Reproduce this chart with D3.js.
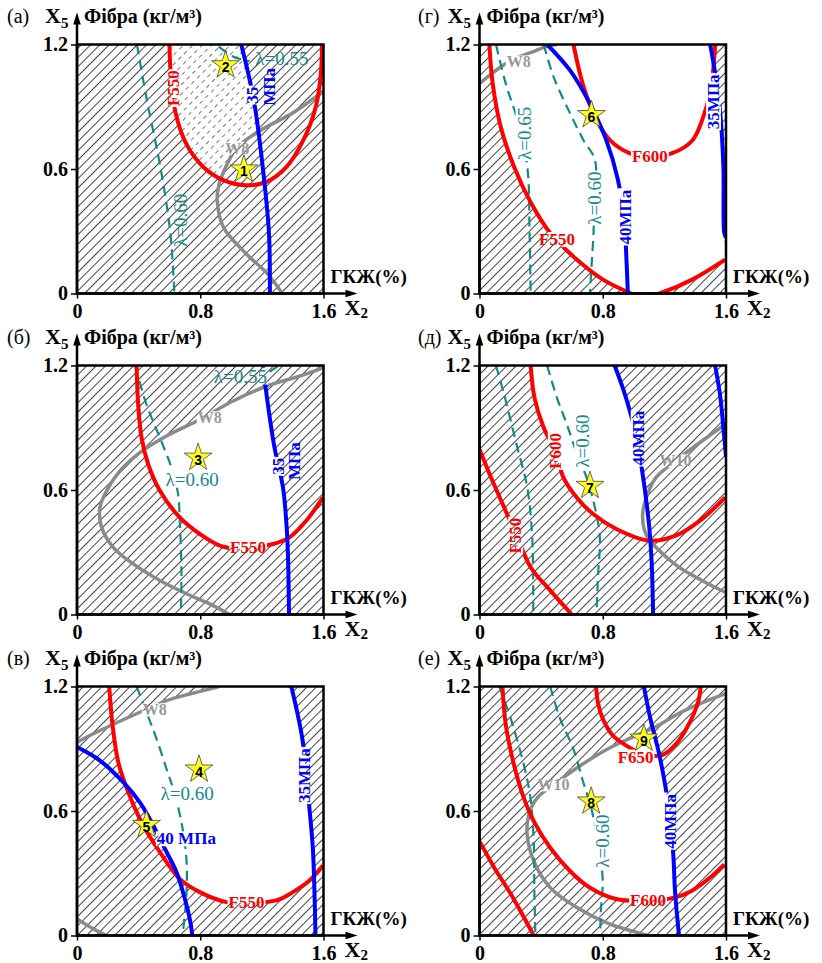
<!DOCTYPE html>
<html>
<head>
<meta charset="utf-8">
<script src="https://cdn.jsdelivr.net/npm/d3@7"></script>
<style>
  body { margin: 0; background: #fff; }
</style>
</head>
<body>
<div id="chart"></div>
<script>
// ticks
var xTicks = [0, 0.8, 1.6];
var yTicks = [0, 0.6, 1.2];

// (а)
var a_F550 = [[0.60,1.2],[0.61,1.04],[0.64,0.87],[0.71,0.72],[0.82,0.61],[0.95,0.546],[1.09,0.522],[1.23,0.538],[1.36,0.61],[1.47,0.74],[1.55,0.90],[1.583,1.06],[1.59,1.2]];
var a_MPa35 = [[1.066,1.2],[1.148,0.93],[1.213,0.56],[1.246,0.29],[1.252,0]];
var a_lam060 = [[0.389,1.2],[0.454,0.93],[0.541,0.61],[0.606,0.29],[0.632,0]];
var a_lam055 = [[0.92,1.19],[1.02,1.14],[1.12,1.12]];
var a_W8 = [[1.6,0.975],[1.41,0.875],[1.19,0.786],[1.08,0.73],[1.016,0.68],[0.96,0.6],[0.92,0.52],[0.91,0.45],[0.95,0.32],[1.1,0.19],[1.235,0.096],[1.333,0]];
var a_dots = [[0.60,1.2],[0.61,1.04],[0.64,0.87],[0.71,0.72],[0.82,0.61],[0.93,0.55],[0.96,0.6],[1.016,0.68],[1.08,0.73],[1.175,0.778],[1.148,0.93],[1.066,1.2]];
var a_labels = [["F550",0.625,0.99,"red","v"],["λ=0.55",1.33,1.133,"teal","h"],["35",1.142,0.956,"blue","v"],["МПа",1.25,0.996,"blue","v"],["W8",1.04,0.70,"grey","h"],["λ=0.60",0.675,0.353,"teal","v"]];
var a_stars = [[1,1.083,0.598],[2,0.964,1.1]];

// (б)
var b_F550 = [[0.387,1.2],[0.397,1.012],[0.419,0.852],[0.462,0.724],[0.538,0.596],[0.667,0.468],[0.797,0.388],[0.926,0.332],[1.056,0.316],[1.272,0.34],[1.38,0.372],[1.488,0.452],[1.596,0.564]];
var b_MPa35 = [[1.207,1.2],[1.239,1.012],[1.282,0.804],[1.337,0.612],[1.358,0.452],[1.369,0.292],[1.376,0]];
var b_lam060 = [[0.376,1.2],[0.451,1.012],[0.538,0.852],[0.613,0.708],[0.656,0.58],[0.667,0.452],[0.678,0.212],[0.674,0]];
var b_lam055 = [[1.25,1.17],[1.31,1.2]];
var b_W8 = [[1.596,1.189],[1.445,1.149],[1.229,1.1],[1.013,1.029],[0.797,0.94],[0.581,0.86],[0.408,0.78],[0.279,0.692],[0.192,0.596],[0.149,0.516],[0.16,0.42],[0.235,0.324],[0.365,0.244],[0.538,0.164],[0.711,0.1],[0.883,0.043],[0.991,0]];
var b_clear = [[0.44,0.795],[0.581,0.86],[0.797,0.94],[1.013,1.029],[1.225,1.1],[1.239,1.012],[1.282,0.804],[1.337,0.612],[1.358,0.452],[1.363,0.364],[1.272,0.34],[1.056,0.316],[0.926,0.332],[0.797,0.388],[0.667,0.468],[0.538,0.596],[0.462,0.724]];
var b_labels = [["λ=0.55",1.06,1.149,"teal","h"],["W8",0.862,0.948,"grey","h"],["λ=0.60",0.747,0.652,"teal","h"],["35",1.31,0.714,"blue","v"],["МПа",1.412,0.739,"blue","v"],["F550",1.11,0.324,"red","h"]];
var b_stars = [[3,0.786,0.756]];

// (в)
var c_W8 = [[0,0.932],[0.149,0.988],[0.408,1.076],[0.581,1.132],[0.732,1.164],[0.883,1.192],[0.92,1.2]];
var c_W8low = [[0,0.08],[0.106,0.032],[0.192,0]];
var c_MPa40 = [[0,0.908],[0.149,0.843],[0.3,0.739],[0.408,0.642],[0.484,0.546],[0.559,0.434],[0.646,0.305],[0.7,0.177],[0.732,0.08],[0.749,0]];
var c_F550 = [[0.209,1.2],[0.231,1.012],[0.268,0.835],[0.333,0.69],[0.419,0.546],[0.538,0.402],[0.667,0.273],[0.797,0.209],[0.97,0.161],[1.099,0.157],[1.293,0.169],[1.401,0.209],[1.509,0.265],[1.596,0.337]];
var c_lam060 = [[0.387,1.2],[0.451,1.076],[0.516,0.948],[0.581,0.803],[0.624,0.707],[0.678,0.546],[0.71,0.369],[0.71,0.193],[0.685,0]];
var c_MPa35 = [[1.391,1.2],[1.434,1.06],[1.466,0.932],[1.509,0.61],[1.531,0.418],[1.542,0.193],[1.548,0]];
var c_clear = [[0.231,1.016],[0.408,1.076],[0.581,1.132],[0.732,1.164],[0.883,1.192],[0.92,1.2],[1.391,1.2],[1.434,1.06],[1.466,0.932],[1.509,0.61],[1.531,0.418],[1.537,0.285],[1.401,0.209],[1.293,0.169],[1.099,0.157],[0.97,0.161],[0.797,0.209],[0.667,0.273],[0.646,0.302],[0.559,0.434],[0.484,0.546],[0.408,0.642],[0.3,0.739],[0.289,0.755],[0.268,0.835]];
var c_labels = [["W8",0.505,1.088,"grey","h"],["λ=0.60",0.715,0.683,"teal","h"],["40 МПа",0.71,0.466,"blue","h"],["35МПа",1.477,0.77,"blue","v"],["F550",1.1,0.16,"red","h"]];
var c_stars = [[4,0.792,0.8],[5,0.451,0.533]];

// (г)
var d_F550 = [[0.064,1.2],[0.086,1.01],[0.139,0.80],[0.225,0.61],[0.332,0.44],[0.46,0.29],[0.631,0.164],[0.802,0.067],[0.952,0.011],[1.06,-0.02],[1.19,0.006],[1.38,0.067],[1.594,0.163]];
var d_F600 = [[0.61,1.2],[0.674,1.0],[0.76,0.836],[0.845,0.74],[0.973,0.676],[1.102,0.66],[1.251,0.676],[1.38,0.736],[1.444,0.833],[1.5,0.98],[1.53,1.2]];
var d_MPa40 = [[0.439,1.2],[0.588,1.075],[0.717,0.914],[0.824,0.737],[0.898,0.55],[0.94,0.35],[0.952,0.196],[0.963,0]];
var d_MPa35 = [[1.497,1.2],[1.53,1.06],[1.561,0.884],[1.583,0.612],[1.589,0.292],[1.6,0.27]];
var d_lam065 = [[0.107,1.2],[0.171,1.01],[0.246,0.836],[0.31,0.612],[0.325,0.292],[0.332,0]];
var d_lam060 = [[0.417,1.2],[0.481,1.044],[0.588,0.868],[0.674,0.74],[0.749,0.644],[0.745,0.4],[0.738,0.26],[0.727,0.131],[0.717,0]];
var d_W8 = [[0,1.012],[0.154,1.1],[0.255,1.14],[0.345,1.165],[0.432,1.19],[0.5,1.2]];
var d_hatchL = [[0,1.2],[0.064,1.2],[0.086,1.01],[0.139,0.80],[0.225,0.61],[0.332,0.44],[0.46,0.29],[0.631,0.164],[0.802,0.067],[0.952,0.011],[1.0,0],[0,0]];
var d_hatchR = [[1.497,1.2],[1.53,1.06],[1.561,0.884],[1.583,0.612],[1.589,0.292],[1.594,0.163],[1.38,0.067],[1.19,0.006],[1.1,0],[1.6,0],[1.6,1.2]];
var d_labels = [["F550",0.503,0.26,"red","h"],["F600",1.106,0.66,"red","h"],["40МПа",0.948,0.368,"blue","v"],["35МПа",1.519,0.924,"blue","v"],["λ=0.65",0.289,0.772,"teal","v"],["λ=0.60",0.749,0.46,"teal","v"],["W8",0.255,1.116,"grey","h"]];
var d_stars = [[6,0.727,0.86]];

// (д)
var e_F550 = [[0,0.796],[0.075,0.66],[0.16,0.516],[0.246,0.372],[0.332,0.228],[0.46,0.115],[0.599,0]];
var e_F600 = [[0.332,1.2],[0.357,1.044],[0.417,0.9],[0.492,0.788],[0.545,0.66],[0.631,0.564],[0.738,0.484],[0.888,0.412],[1.102,0.356],[1.273,0.38],[1.444,0.46],[1.594,0.564]];
var e_MPa40 = [[0.877,1.2],[0.93,1.092],[0.973,0.988],[1.02,0.85],[1.059,0.676],[1.08,0.564],[1.102,0.42],[1.117,0.26],[1.127,0]];
var e_MPa35 = [[1.529,1.2],[1.561,1.06],[1.583,0.9],[1.6,0.76]];
var e_lamL = [[0.107,1.2],[0.16,1.06],[0.203,0.932],[0.246,0.804],[0.31,0.612],[0.342,0.372],[0.349,0]];
var e_lam060 = [[0.439,1.2],[0.503,1.044],[0.567,0.916],[0.64,0.76],[0.695,0.66],[0.749,0.516],[0.781,0.372],[0.77,0.196],[0.759,0]];
var e_W10 = [[1.594,0.916],[1.444,0.836],[1.273,0.74],[1.145,0.66],[1.091,0.58],[1.059,0.484],[1.08,0.388],[1.166,0.308],[1.294,0.228],[1.444,0.164],[1.594,0.107]];
var e_clear = [[0.332,1.2],[0.357,1.044],[0.417,0.9],[0.492,0.788],[0.545,0.66],[0.631,0.564],[0.738,0.484],[0.888,0.412],[1.0,0.375],[1.105,0.356],[1.102,0.42],[1.08,0.564],[1.059,0.676],[1.02,0.85],[0.973,0.988],[0.93,1.092],[0.877,1.2]];
var e_labels = [["F550",0.235,0.38,"red","v"],["F600",0.492,0.788,"red","v"],["λ=0.60",0.67,0.836,"teal","v"],["40МПа",1.03,0.85,"blue","v"],["W10",1.273,0.74,"grey","h"]];
var e_stars = [[7,0.717,0.62]];

// (е)
var f_F550 = [[0,0.455],[0.096,0.327],[0.203,0.2],[0.288,0.088],[0.352,0]];
var f_F600 = [[0.149,1.2],[0.171,1.013],[0.224,0.822],[0.288,0.662],[0.352,0.551],[0.459,0.423],[0.587,0.311],[0.715,0.231],[0.885,0.176],[1.099,0.168],[1.269,0.184],[1.376,0.215],[1.483,0.271],[1.589,0.343]];
var f_F650 = [[0.757,1.2],[0.768,1.125],[0.8,1.045],[0.864,0.965],[0.949,0.917],[1.056,0.877],[1.184,0.869],[1.269,0.917],[1.355,1.013],[1.419,1.125],[1.436,1.2]];
var f_MPa40 = [[1.067,1.2],[1.109,1.045],[1.163,0.885],[1.205,0.726],[1.24,0.55],[1.259,0.375],[1.269,0.215],[1.295,0]];
var f_lamL = [[0.128,1.2],[0.203,1.045],[0.288,0.822],[0.331,0.662],[0.352,0.455],[0.356,0.215],[0.363,0]];
var f_lam060 = [[0.459,1.2],[0.523,1.045],[0.608,0.902],[0.672,0.742],[0.725,0.614],[0.77,0.45],[0.8,0.263],[0.789,0.136],[0.783,0]];
var f_W10 = [[1.6,1.165],[1.483,1.133],[1.312,1.077],[1.141,1.005],[0.971,0.949],[0.8,0.886],[0.629,0.806],[0.48,0.726],[0.373,0.662],[0.32,0.582],[0.309,0.487],[0.352,0.359],[0.459,0.231],[0.629,0.136],[0.843,0.056],[1.056,0.008],[1.099,0]];
var f_clear = [[0.322,0.59],[0.373,0.662],[0.48,0.726],[0.629,0.806],[0.8,0.886],[0.971,0.949],[1.125,1.0],[1.163,0.885],[1.205,0.726],[1.24,0.55],[1.259,0.375],[1.267,0.185],[1.099,0.168],[0.885,0.176],[0.715,0.231],[0.587,0.311],[0.459,0.423],[0.352,0.551]];
var f_labels = [["F600",1.094,0.168,"red","h"],["F650",1.013,0.86,"red","h"],["40МПа",1.237,0.55,"blue","v"],["λ=0.60",0.8,0.455,"teal","v"],["W10",0.48,0.726,"grey","h"]];
var f_stars = [[8,0.725,0.646],[9,1.067,0.949]];

var panels = [
  {name: "(а)", col: 0, row: 0, base: "hatch", clear: [], hatch: [], dots: a_dots,
   curves: [["grey", a_W8], ["teal", a_lam060], ["teal", a_lam055], ["red", a_F550], ["blue", a_MPa35]], labels: a_labels, stars: a_stars},
  {name: "(б)", col: 0, row: 1, base: "hatch", clear: [b_clear], hatch: [], dots: null,
   curves: [["grey", b_W8], ["teal", b_lam060], ["teal", b_lam055], ["red", b_F550], ["blue", b_MPa35]], labels: b_labels, stars: b_stars},
  {name: "(в)", col: 0, row: 2, base: "hatch", clear: [c_clear], hatch: [], dots: null,
   curves: [["grey", c_W8], ["grey", c_W8low], ["teal", c_lam060], ["red", c_F550], ["blue", c_MPa40], ["blue", c_MPa35]], labels: c_labels, stars: c_stars},
  {name: "(г)", col: 1, row: 0, base: "white", clear: [], hatch: [d_hatchL, d_hatchR], dots: null,
   curves: [["grey", d_W8], ["teal", d_lam065], ["teal", d_lam060], ["red", d_F550], ["red", d_F600], ["blue", d_MPa40], ["blue", d_MPa35]], labels: d_labels, stars: d_stars},
  {name: "(д)", col: 1, row: 1, base: "hatch", clear: [e_clear], hatch: [], dots: null,
   curves: [["grey", e_W10], ["teal", e_lamL], ["teal", e_lam060], ["red", e_F550], ["red", e_F600], ["blue", e_MPa40], ["blue", e_MPa35]], labels: e_labels, stars: e_stars},
  {name: "(е)", col: 1, row: 2, base: "hatch", clear: [f_clear], hatch: [], dots: null,
   curves: [["grey", f_W10], ["teal", f_lamL], ["teal", f_lam060], ["red", f_F550], ["red", f_F600], ["red", f_F650], ["blue", f_MPa40]], labels: f_labels, stars: f_stars}
];

var W = 822, H = 963;
var colX = [77, 479.5], rowY = [44.5, 365.5, 686.5];
var nameX = [7, 418];
var pw = 246.5, ph = 249;
var serif = "Liberation Serif, DejaVu Serif, serif";
var sans = "Liberation Sans, DejaVu Sans, sans-serif";

var colors = {red: "#ff0000", blue: "#0000ff", teal: "#138a88", grey: "#8a8a8a"};
var widths = {red: 4, blue: 4, teal: 2.2, grey: 3.5};
var labelFont = {red: [17, "bold"], blue: [17, "bold"], teal: [19, "normal"], grey: [16, "bold"]};
var labelColor = {red: "#ff0000", blue: "#0000ff", teal: "#138a88", grey: "#999"};

var svg = d3.select("#chart").append("svg")
  .attr("width", W)
  .attr("height", H);
var defs = svg.append("defs");

// узор штриховки
var hp = defs.append("pattern").attr("id", "hatch")
  .attr("patternUnits", "userSpaceOnUse")
  .attr("width", 6.6).attr("height", 6.6)
  .attr("patternTransform", "rotate(45)");
hp.append("rect").attr("width", 6.6).attr("height", 6.6).attr("fill", "#fff");
hp.append("line").attr("x1", 3.3).attr("y1", 0).attr("x2", 3.3).attr("y2", 6.6)
  .attr("stroke", "#333").attr("stroke-width", 0.9);

var dp = defs.append("pattern").attr("id", "dash")
  .attr("patternUnits", "userSpaceOnUse")
  .attr("width", 6.6).attr("height", 8)
  .attr("patternTransform", "rotate(45)");
dp.append("rect").attr("width", 6.6).attr("height", 8).attr("fill", "#fff");
dp.append("line").attr("x1", 3.3).attr("y1", 0).attr("x2", 3.3).attr("y2", 4)
  .attr("stroke", "#555").attr("stroke-width", 0.8);

var fmt = function(d) { return d === 0 ? "0" : d.toFixed(1); };

panels.forEach(function(p, i) {
  var x0 = colX[p.col], y0 = rowY[p.row];
  var x = d3.scaleLinear().domain([0, 1.6]).range([x0, x0 + pw]);
  var y = d3.scaleLinear().domain([0, 1.2]).range([y0 + ph, y0]);
  var g = svg.append("g");

  defs.append("clipPath").attr("id", "clip" + i)
    .append("rect").attr("x", x0).attr("y", y0).attr("width", pw).attr("height", ph);

  var area = d3.line().x(function(d) { return x(d[0]); }).y(function(d) { return y(d[1]); })
    .curve(d3.curveLinearClosed);
  var line = d3.line().x(function(d) { return x(d[0]); }).y(function(d) { return y(d[1]); })
    .curve(d3.curveCatmullRom.alpha(0.5));

  //область
  var plot = g.append("g").attr("clip-path", "url(#clip" + i + ")");
  plot.append("rect").attr("x", x0).attr("y", y0).attr("width", pw).attr("height", ph)
    .attr("fill", p.base === "hatch" ? "url(#hatch)" : "#fff");
  p.clear.forEach(function(poly) {
    plot.append("path").attr("d", area(poly)).attr("fill", "#fff");
  });
  p.hatch.forEach(function(poly) {
    plot.append("path").attr("d", area(poly)).attr("fill", "url(#hatch)");
  });
  if (p.dots) {
    plot.append("path").attr("d", area(p.dots)).attr("fill", "url(#dash)");
  }

  //кривые
  var mask = defs.append("mask").attr("id", "mask" + i)
    .attr("maskUnits", "userSpaceOnUse")
    .attr("x", 0).attr("y", 0).attr("width", W).attr("height", H);
  mask.append("rect").attr("width", W).attr("height", H).attr("fill", "#fff");
  var gc = plot.append("g").attr("mask", "url(#mask" + i + ")");
  p.curves.forEach(function(c) {
    gc.append("path")
      .attr("d", line(c[1]))
      .attr("fill", "none")
      .attr("stroke", colors[c[0]])
      .attr("stroke-width", widths[c[0]])
      .attr("stroke-dasharray", c[0] === "teal" ? "10,6" : null);
  });

  //рамка
  g.append("rect").attr("x", x0).attr("y", y0).attr("width", pw).attr("height", ph)
    .attr("fill", "none").attr("stroke", "#000").attr("stroke-width", 2.5);

  //оси
  var ya = g.append("g").attr("transform", "translate(" + x0 + ",0)")
    .call(d3.axisLeft(y).tickValues(yTicks).tickSize(6).tickSizeOuter(0).tickPadding(3).tickFormat(fmt));
  var xa = g.append("g").attr("transform", "translate(0," + (y0 + ph) + ")")
    .call(d3.axisBottom(x).tickValues(xTicks).tickSize(5).tickSizeOuter(0).tickPadding(5).tickFormat(fmt));
  [ya, xa].forEach(function(a) {
    a.select(".domain").remove();
    a.selectAll("line").attr("stroke", "#000").attr("stroke-width", 1.5);
    a.selectAll("text").attr("fill", "#000")
      .style("font-family", serif).style("font-size", "20px").style("font-weight", "bold");
  });

  g.append("line").attr("x1", x0).attr("y1", y0 + ph).attr("x2", x0).attr("y2", y0 - 22)
    .attr("stroke", "#000").attr("stroke-width", 2.5);
  g.append("path")
    .attr("d", "M" + x0 + "," + (y0 - 32) + "L" + (x0 - 3.8) + "," + (y0 - 20) + "L" + (x0 + 3.8) + "," + (y0 - 20) + "Z")
    .attr("fill", "#000");
  g.append("line").attr("x1", x0).attr("y1", y0 + ph).attr("x2", x0 + pw + 24).attr("y2", y0 + ph)
    .attr("stroke", "#000").attr("stroke-width", 2.5);
  g.append("path")
    .attr("d", "M" + (x0 + pw + 34) + "," + (y0 + ph) + "L" + (x0 + pw + 22) + "," + (y0 + ph - 3.8) + "L" + (x0 + pw + 22) + "," + (y0 + ph + 3.8) + "Z")
    .attr("fill", "#000");

  //подписи
  g.append("text").attr("x", nameX[p.col]).attr("y", y0 - 22)
    .style("font-family", serif).style("font-size", "20px").text(p.name);
  var xt = g.append("text").attr("x", x0 - 32).attr("y", y0 - 22)
    .style("font-family", serif).style("font-size", "22px").style("font-weight", "bold");
  xt.append("tspan").text("X");
  xt.append("tspan").style("font-size", "15px").attr("dy", 5).text("5");
  g.append("text").attr("x", x0 + 7).attr("y", y0 - 22)
    .style("font-family", serif).style("font-size", "20px").style("font-weight", "bold")
    .text("Фібра (кг/м³)");
  g.append("text").attr("x", x0 + pw + 7).attr("y", y0 + ph - 11)
    .style("font-family", serif).style("font-size", "19px").style("font-weight", "bold")
    .text("ГКЖ(%)");
  var x2 = g.append("text").attr("x", x0 + pw + 21).attr("y", y0 + ph + 21)
    .style("font-family", serif).style("font-size", "22px").style("font-weight", "bold");
  x2.append("tspan").text("X");
  x2.append("tspan").style("font-size", "15px").attr("dy", 3).text("2");

  //метки кривых
  p.labels.forEach(function(l) {
    var tr = "translate(" + x(l[1]) + "," + y(l[2]) + ")" + (l[4] === "v" ? " rotate(-90)" : "");
    var t = g.append("text")
      .attr("transform", tr)
      .attr("text-anchor", "middle")
      .attr("dominant-baseline", "central")
      .style("font-family", serif)
      .style("font-size", labelFont[l[3]][0] + "px")
      .style("font-weight", labelFont[l[3]][1])
      .attr("fill", labelColor[l[3]])
      .text(l[0]);
    var b = t.node().getBBox();
    mask.append("rect")
      .attr("transform", tr)
      .attr("x", b.x - 1).attr("y", b.y + 2)
      .attr("width", b.width + 2).attr("height", b.height - 4)
      .attr("fill", "#000");
  });

  //звёзды
  var star = d3.symbol().type(d3.symbolStar).size(240);
  p.stars.forEach(function(s) {
    var sg = g.append("g").attr("transform", "translate(" + x(s[1]) + "," + y(s[2]) + ")");
    sg.append("path").attr("d", star()).attr("fill", "#ffff1a").attr("stroke", "#444").attr("stroke-width", 0.8);
    sg.append("text").attr("y", 2).attr("text-anchor", "middle").attr("dominant-baseline", "central")
      .style("font-family", sans).style("font-size", "14px").style("font-weight", "bold")
      .text(s[0]);
  });
});
</script>
</body>
</html>
